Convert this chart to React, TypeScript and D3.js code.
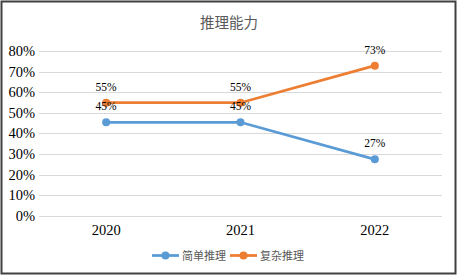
import React from "react";
import * as d3 from "d3";

const categories = ["2020", "2021", "2022"];
const simpleValues = [0.454, 0.454, 0.274];
const complexValues = [0.549, 0.549, 0.729];
const seriesNames = ["简单推理", "复杂推理"];
const seriesColors = ["#5B9BD5", "#ED7D31"];
const yTicks = [0, 0.1, 0.2, 0.3, 0.4, 0.5, 0.6, 0.7, 0.8];
const title = "推理能力";

const W = 458;
const H = 277;
const plotLeft = 39;
const plotRight = 442;
const plotTop = 51;
const plotBottom = 215.8;

export default function App() {
  const x = d3.scaleBand<string>().domain(categories).range([plotLeft, plotRight]);
  const y = d3.scaleLinear().domain([0, 0.8]).range([plotBottom, plotTop]);
  const cx = (c: string) => (x(c) as number) + x.bandwidth() / 2;
  const line = d3
    .line<number>()
    .x((_, i) => cx(categories[i]))
    .y((v) => y(v));
  const fmt = (v: number) => `${Math.round(v * 100)}%`;
  const series = [simpleValues, complexValues];
  const serif = { fontFamily: '"Liberation Serif", "Times New Roman", "DejaVu Serif", serif' };
  const cjk = { fontFamily: '"Noto Sans CJK SC", sans-serif' };

  const legendItems = [
    { lx: 152, tx: 182 },
    { lx: 230, tx: 260 },
  ];

  return (
    <svg
      width={W}
      height={H}
      style={{ position: "absolute", left: 0, top: 0, background: "#fff" }}
    >
      <rect x={0} y={0} width={W} height={H} fill="#fff" />
      <rect x={1.5} y={1.5} width={454} height={272} fill="none" stroke="#404040" strokeWidth={2} />
      <text x={229} y={28} textAnchor="middle" style={cjk} fontSize={14.5} fill="#595959">
        {title}
      </text>
      {yTicks.map((t) => (
        <g key={t}>
          <line
            x1={plotLeft}
            x2={plotRight}
            y1={Math.round(y(t)) + 0.5}
            y2={Math.round(y(t)) + 0.5}
            stroke="#D9D9D9"
            strokeWidth={1}
          />
          <text x={35} y={y(t) + 5} textAnchor="end" style={serif} fontSize={14.5} fill="#000">
            {fmt(t)}
          </text>
        </g>
      ))}
      {categories.map((c) => (
        <text key={c} x={cx(c)} y={235} textAnchor="middle" style={serif} fontSize={14.5} fill="#000">
          {c}
        </text>
      ))}
      {series.map((vals, si) => (
        <g key={si}>
          <path d={line(vals) as string} fill="none" stroke={seriesColors[si]} strokeWidth={2.75} strokeLinecap="round" />
          {vals.map((v, i) => (
            <circle key={i} cx={cx(categories[i])} cy={y(v)} r={4} fill={seriesColors[si]} />
          ))}
        </g>
      ))}
      {series.map((vals, si) =>
        vals.map((v, i) => (
          <text
            key={`${si}-${i}`}
            x={cx(categories[i])}
            y={y(v) - 12}
            textAnchor="middle"
            style={serif}
            fontSize={11.5}
            fill="#000"
          >
            {fmt(v)}
          </text>
        ))
      )}
      {legendItems.map((li, si) => (
        <g key={si}>
          <line x1={li.lx} x2={li.lx + 27} y1={255.5} y2={255.5} stroke={seriesColors[si]} strokeWidth={2.75} />
          <circle cx={li.lx + 13.5} cy={255.5} r={4} fill={seriesColors[si]} />
          <text x={li.tx} y={259.5} style={cjk} fontSize={11} fill="#595959">
            {seriesNames[si]}
          </text>
        </g>
      ))}
    </svg>
  );
}
